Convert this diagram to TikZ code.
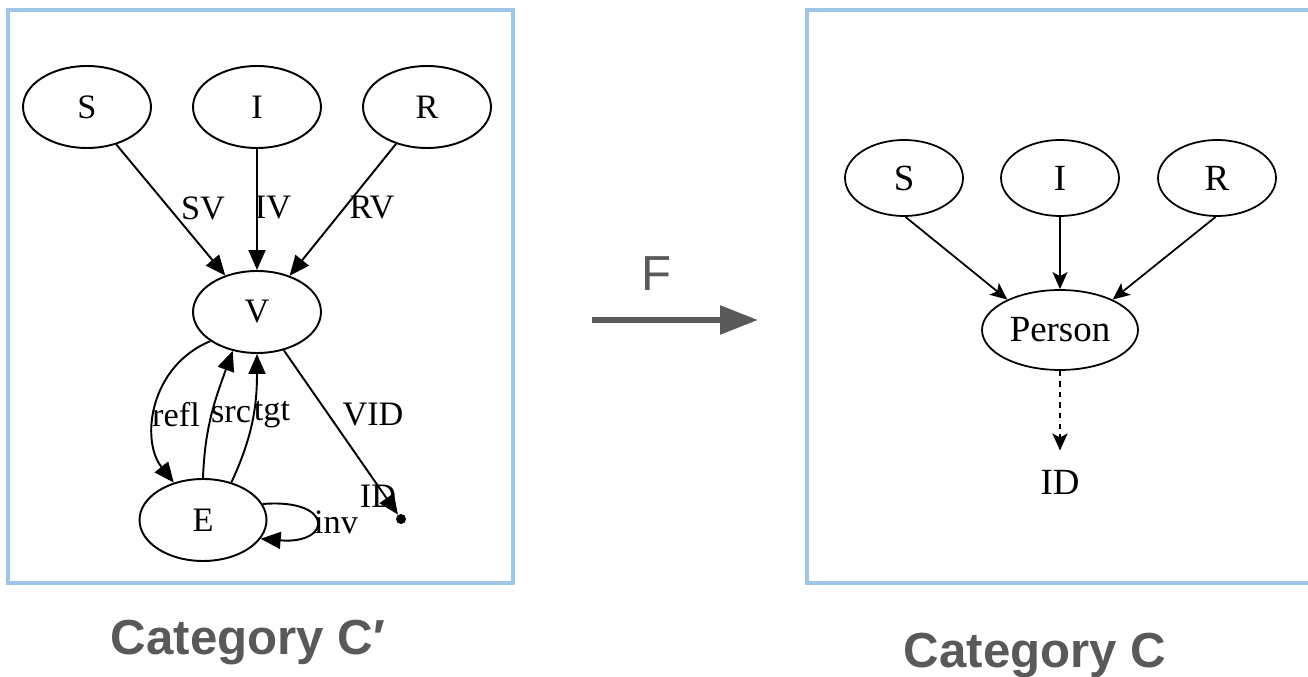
\documentclass[tikz,border=0pt]{standalone}
\usepackage{fontspec}
\setmainfont{Liberation Serif}
\newfontfamily\capfont{Liberation Sans}
\usetikzlibrary{arrows.meta,shapes.geometric}
\definecolor{boxblue}{HTML}{9FC5E8}
\definecolor{labelgray}{HTML}{595959}

\begin{document}
\begin{tikzpicture}[
    x=0.02cm, y=0.02cm,
    obj/.style={ellipse, draw, line width=1.1pt, minimum width=2.56cm, minimum height=1.64cm, inner sep=0pt, font=\fontsize{19.5}{22}\selectfont},
    cobj/.style={ellipse, draw, line width=1pt, minimum width=2.36cm, minimum height=1.52cm, inner sep=0pt, font=\fontsize{21}{24}\selectfont},
    mor/.style={line width=1.1pt, -{Triangle[length=0.4cm, width=0.34cm]}},
    cmor/.style={line width=1pt, -{Stealth[length=0.34cm, width=0.3cm, inset=0.08cm]}},
    lbl/.style={font=\fontsize{19.5}{22}\selectfont, inner sep=1pt},
    frame/.style={boxblue, line width=1.8pt},
    caption/.style={text=labelgray, anchor=base, font=\capfont\bfseries\fontsize{28}{33}\selectfont},
]
\useasboundingbox (0,0) rectangle (1308,676);

% Frames
\draw[frame] (8,666) rectangle (513,93);
\draw[frame] (1310,666) -- (807,666) -- (807,93) -- (1310,93);

% Category C' (left)
\node[obj] (S) at (87,569) {S};
\node[obj] (I) at (257,569) {I};
\node[obj] (R) at (427,569) {R};
\node[obj] (V) at (257,364) {V};
\node[obj, minimum width=2.54cm] (E) at (203,156) {E};
\node[circle, fill, inner sep=0pt, minimum size=0.2cm] (idpt) at (401,157) {};

\draw[mor] (S.-52) -- (V.131);
\draw[mor] (I) -- (V);
\draw[mor] (R.230) -- (V.48);
\draw[mor] (V.212) .. controls (150,310) and (140,236) .. (E.128);
\draw[mor] (E.90) to[out=88, in=250] (V.238);
\draw[mor] (E.53) to[out=65, in=270] (V.270);
\draw[mor] (V.-55) -- (idpt);
\draw[mor] (E.15) .. controls +(72,6) and +(72,-6) .. (E.-18);

\node[lbl] at (203,468) {SV};
\node[lbl] at (273,468) {IV};
\node[lbl] at (372,468) {RV};
\node[lbl] at (176,261) {refl};
\node[lbl] at (231,261) {src};
\node[lbl] at (272,261) {tgt};
\node[lbl] at (373,261) {VID};
\node[lbl] at (336,154) {inv};
\node[lbl] at (378,180) {ID};

% Functor
\draw[labelgray, line width=3.2pt, -{Triangle[length=0.76cm, width=0.56cm]}] (592,356) -- (758,356);
\node[text=labelgray, anchor=base, font=\capfont\fontsize{28}{32}\selectfont] at (657,385) {F};

% Category C (right)
\node[cobj] (cS) at (904,498) {S};
\node[cobj] (cI) at (1060,498) {I};
\node[cobj] (cR) at (1217,498) {R};
\node[cobj, minimum width=3.12cm, minimum height=1.6cm] (person) at (1060,346) {Person};
\node[font=\fontsize{21}{24}\selectfont, inner sep=0.38cm] (cid) at (1060,194) {ID};

\draw[cmor] (cS.-88) -- (person.150);
\draw[cmor] (cI) -- (person);
\draw[cmor] (cR.-92) -- (person.30);
\draw[cmor, dashed] (person) -- (cid);

% Captions
\node[caption] at (248,21) {Category C′};
\node[caption] at (1035,9) {Category C};

\end{tikzpicture}
\end{document}
